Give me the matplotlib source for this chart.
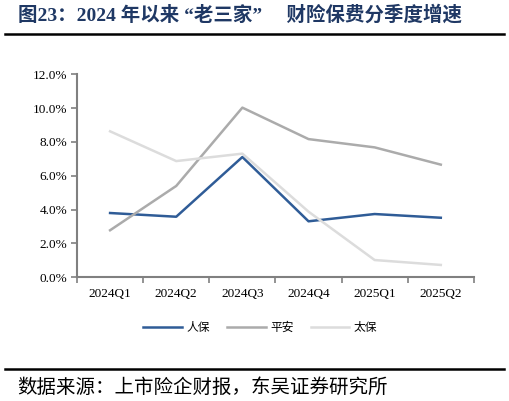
import numpy as np
import matplotlib.pyplot as plt
from matplotlib.lines import Line2D

plt.rcParams['font.family'] = ['Liberation Serif', 'Noto Sans CJK SC']

quarters = ['2024Q1', '2024Q2', '2024Q3', '2024Q4', '2025Q1', '2025Q2']
renbao = [3.80, 3.58, 7.11, 3.31, 3.74, 3.52]
pingan = [2.78, 5.40, 10.03, 8.17, 7.68, 6.66]
taibao = [8.63, 6.87, 7.31, 3.88, 1.02, 0.73]
names = ['人保', '平安', '太保']
colors = ['#2F5C97', '#ABABAB', '#DCDCDC']

fig = plt.figure(figsize=(5.09, 4.01), dpi=100)
ax = fig.add_axes([0.1513, 0.3085, 0.7797, 0.5062])

x = np.arange(len(quarters))
for vals, c in zip([renbao, pingan, taibao], colors):
    ax.plot(x, vals, color=c, lw=1.8)

ax.set_xlim(-0.5, 5.5)
ax.set_ylim(0, 12)
ax.set_yticks(np.arange(0, 12.1, 2))
ax.set_yticklabels(['%.1f%%' % v for v in np.arange(0, 12.1, 2)], fontsize=9.5)
ax.set_xticks(x)
ax.set_xticklabels(quarters, fontsize=9.5)
ax.set_xticks(np.arange(-0.5, 5.6, 1), minor=True)
ax.tick_params(axis='x', which='major', length=0, pad=8)
ax.tick_params(axis='x', which='minor', length=4, width=1.2, color='#808080', direction='out')
ax.tick_params(axis='y', length=4, width=1.2, color='#808080', pad=3)
for s in ['top', 'right']:
    ax.spines[s].set_visible(False)
for s in ['left', 'bottom']:
    ax.spines[s].set_color('#808080')
    ax.spines[s].set_linewidth(1.5)

handles = [Line2D([], [], color=c, lw=1.8) for c in colors]
fig.legend(handles, names, loc='center', bbox_to_anchor=(0.511, 0.184), ncol=3,
           frameon=False, handlelength=3.3, columnspacing=1.45, handletextpad=0.35,
           prop={'family': 'Noto Sans CJK SC', 'size': 8.5})

fig.text(0.035, 0.962, '图23：2024 年以来 “老三家”     财险保费分季度增速', fontsize=14,
         fontweight='bold', color='#1F3864', va='center', ha='left',
         family=['Liberation Serif', 'Noto Sans CJK SC'])
fig.add_artist(Line2D([0.01, 0.99], [0.915, 0.915], color='black', lw=1.8))
fig.add_artist(Line2D([0.01, 0.99], [0.08, 0.08], color='black', lw=1.8))
fig.text(0.033, 0.035, '数据来源：上市险企财报，东吴证券研究所', fontsize=14,
         va='center', ha='left', family='Noto Sans CJK SC')

fig.savefig('out.png', dpi=100)
